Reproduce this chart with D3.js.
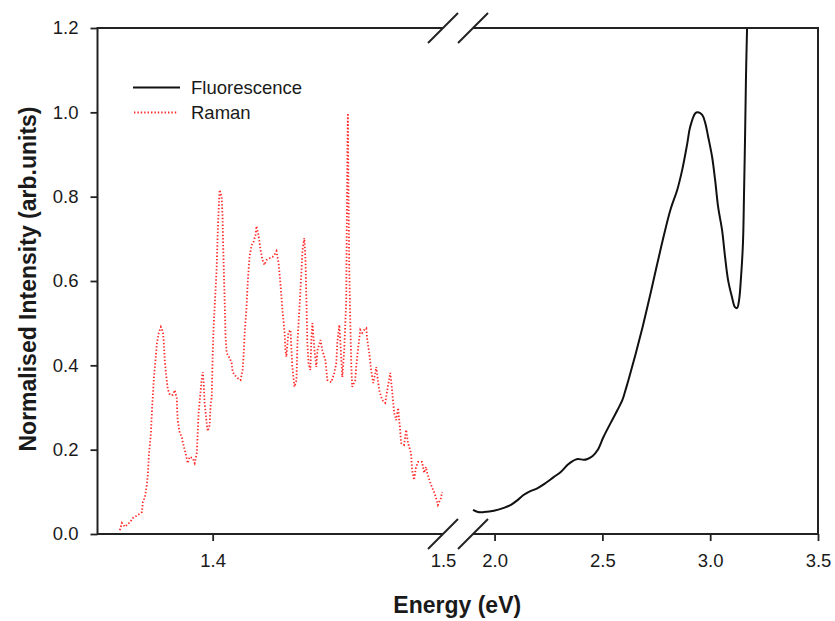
<!DOCTYPE html>
<html>
<head>
<meta charset="utf-8">
<script src="https://cdn.jsdelivr.net/npm/d3@7"></script>
<style>
  body { margin: 0; background: #fff; }
  svg text { font-family: Arial, "Liberation Sans", sans-serif; fill: #1a1a1a; }
</style>
</head>
<body>
<div id="chart"></div>
<script>
// Raman spectrum (left part of the broken axis)
const ramanEnergy = [1.3597, 1.3606, 1.3619, 1.3641, 1.3654, 1.3675, 1.3693, 1.3697, 1.3706, 1.3714,
  1.3719, 1.3723, 1.3732, 1.3736, 1.3740, 1.3745, 1.3753, 1.3758, 1.3766, 1.3775,
  1.3784, 1.3788, 1.3792, 1.3797, 1.3805, 1.3814, 1.3827, 1.3835, 1.3844, 1.3846,
  1.3848, 1.3857, 1.3866, 1.3870, 1.3879, 1.3887, 1.3892, 1.3900, 1.3913, 1.3922,
  1.3931, 1.3935, 1.3939, 1.3948, 1.3952, 1.3957, 1.3961, 1.3965, 1.3974, 1.3978,
  1.3987, 1.3991, 1.3996, 1.4000, 1.4004, 1.4009, 1.4017, 1.4022, 1.4026, 1.4030,
  1.4039, 1.4043, 1.4045, 1.4048, 1.4052, 1.4056, 1.4061, 1.4074, 1.4082, 1.4087,
  1.4095, 1.4108, 1.4121, 1.4130, 1.4134, 1.4139, 1.4147, 1.4152, 1.4160, 1.4169,
  1.4177, 1.4186, 1.4190, 1.4199, 1.4208, 1.4216, 1.4225, 1.4234, 1.4247, 1.4260,
  1.4268, 1.4277, 1.4286, 1.4294, 1.4303, 1.4312, 1.4316, 1.4320, 1.4329, 1.4338,
  1.4342, 1.4346, 1.4355, 1.4364, 1.4368, 1.4377, 1.4385, 1.4390, 1.4398, 1.4403,
  1.4407, 1.4411, 1.4416, 1.4424, 1.4429, 1.4433, 1.4442, 1.4450, 1.4455, 1.4468,
  1.4476, 1.4489, 1.4498, 1.4515, 1.4528, 1.4537, 1.4541, 1.4550, 1.4558, 1.4563,
  1.4571, 1.4580, 1.4582, 1.4585, 1.4587, 1.4590, 1.4593, 1.4597, 1.4602, 1.4606,
  1.4619, 1.4623, 1.4632, 1.4641, 1.4649, 1.4658, 1.4667, 1.4671, 1.4680, 1.4688,
  1.4697, 1.4706, 1.4710, 1.4723, 1.4736, 1.4749, 1.4758, 1.4771, 1.4779, 1.4788,
  1.4797, 1.4805, 1.4814, 1.4818, 1.4831, 1.4840, 1.4848, 1.4861, 1.4866, 1.4874,
  1.4883, 1.4892, 1.4909, 1.4918, 1.4926, 1.4931, 1.4944, 1.4952, 1.4961, 1.4970,
  1.4978, 1.4991, 1.4996];
const ramanIntensity = [0.009, 0.026, 0.017, 0.028, 0.038, 0.045, 0.052, 0.076, 0.088, 0.116,
  0.145, 0.187, 0.240, 0.287, 0.325, 0.372, 0.420, 0.453, 0.477, 0.491,
  0.479, 0.453, 0.413, 0.382, 0.344, 0.330, 0.330, 0.341, 0.323, 0.294,
  0.270, 0.240, 0.230, 0.218, 0.199, 0.180, 0.168, 0.183, 0.180, 0.168,
  0.192, 0.240, 0.287, 0.341, 0.365, 0.384, 0.358, 0.311, 0.263, 0.244,
  0.258, 0.306, 0.325, 0.424, 0.491, 0.543, 0.626, 0.714, 0.768, 0.816,
  0.799, 0.752, 0.697, 0.633, 0.555, 0.467, 0.429, 0.417, 0.406, 0.384,
  0.377, 0.370, 0.365, 0.389, 0.420, 0.477, 0.538, 0.595, 0.657, 0.685,
  0.692, 0.709, 0.730, 0.709, 0.673, 0.650, 0.638, 0.650, 0.654, 0.657,
  0.662, 0.671, 0.643, 0.595, 0.531, 0.479, 0.436, 0.420, 0.479, 0.484,
  0.436, 0.396, 0.349, 0.365, 0.453, 0.538, 0.619, 0.673, 0.702, 0.650,
  0.555, 0.453, 0.406, 0.389, 0.467, 0.500, 0.436, 0.396, 0.436, 0.460,
  0.436, 0.413, 0.365, 0.360, 0.382, 0.406, 0.453, 0.496, 0.420, 0.372,
  0.436, 0.555, 0.714, 0.911, 0.998, 0.792, 0.633, 0.515, 0.396, 0.349,
  0.365, 0.396, 0.443, 0.484, 0.477, 0.484, 0.488, 0.460, 0.429, 0.389,
  0.358, 0.382, 0.396, 0.341, 0.318, 0.311, 0.341, 0.382, 0.341, 0.287,
  0.270, 0.299, 0.247, 0.216, 0.211, 0.247, 0.216, 0.192, 0.152, 0.128,
  0.159, 0.171, 0.171, 0.145, 0.159, 0.145, 0.123, 0.111, 0.100, 0.085,
  0.069, 0.085, 0.100];

// Fluorescence spectrum (right part of the broken axis)
const fluorEnergy = [1.900, 1.923, 1.951, 1.997, 2.043, 2.076, 2.108, 2.136, 2.159, 2.200,
  2.237, 2.274, 2.307, 2.339, 2.362, 2.385, 2.413, 2.431, 2.455, 2.478,
  2.505, 2.538, 2.570, 2.593, 2.607, 2.621, 2.686, 2.723, 2.769, 2.815,
  2.847, 2.870, 2.894, 2.907, 2.931, 2.944, 2.963, 2.977, 2.991, 3.009,
  3.023, 3.037, 3.055, 3.069, 3.083, 3.101, 3.115, 3.125, 3.134, 3.143,
  3.152, 3.157, 3.162, 3.166, 3.171, 3.173];
const fluorIntensity = [0.057, 0.052, 0.052, 0.055, 0.062, 0.069, 0.081, 0.093, 0.100, 0.109,
  0.121, 0.135, 0.147, 0.164, 0.173, 0.178, 0.176, 0.178, 0.185, 0.199,
  0.230, 0.263, 0.294, 0.318, 0.341, 0.365, 0.490, 0.570, 0.673, 0.768,
  0.816, 0.863, 0.927, 0.965, 0.998, 1.000, 0.994, 0.975, 0.941, 0.894,
  0.839, 0.775, 0.721, 0.657, 0.602, 0.562, 0.538, 0.536, 0.555, 0.609,
  0.690, 0.809, 0.951, 1.084, 1.200, 1.250];

const yTicks = [0, 0.2, 0.4, 0.6, 0.8, 1.0, 1.2];
const xTicksLeft = [1.4, 1.5];
const xTicksRight = [2.0, 2.5, 3.0, 3.5];

const W = 835, H = 621;
const plotLeft = 97.5, plotRight = 818, plotTop = 28, plotBottom = 534;
const breakL = 443, breakR = 473;

const svg = d3.select('#chart').append('svg')
  .attr('width', W).attr('height', H);

const y = d3.scaleLinear().domain([0, 1.2]).range([plotBottom, plotTop]);
const xL = d3.scaleLinear().domain([1.35, 1.5]).range([plotLeft, breakL]);
const xR = d3.scaleLinear().domain([1.9, 3.5]).range([breakR, plotRight]);

svg.append('clipPath').attr('id', 'clip')
  .append('rect').attr('x', plotLeft).attr('y', plotTop)
  .attr('width', plotRight - plotLeft).attr('height', plotBottom - plotTop);

// curves
const raman = ramanEnergy.map((e, i) => [e, ramanIntensity[i]]);
const fluor = fluorEnergy.map((e, i) => [e, fluorIntensity[i]]);

const ramanColor = '#ff2a2a';

svg.append('path')
  .datum(raman)
  .attr('clip-path', 'url(#clip)')
  .attr('fill', 'none')
  .attr('stroke', ramanColor)
  .attr('stroke-width', 1.8)
  .attr('stroke-dasharray', '1.4,2')
  .attr('d', d3.line().x(d => xL(d[0])).y(d => y(d[1])));

svg.append('path')
  .datum(fluor)
  .attr('clip-path', 'url(#clip)')
  .attr('fill', 'none')
  .attr('stroke', '#111')
  .attr('stroke-width', 2)
  .attr('d', d3.line().curve(d3.curveCatmullRom).x(d => xR(d[0])).y(d => y(d[1])));

// axes
const axisColor = '#222';
const styleAxis = g => {
  g.select('.domain').remove();
  g.selectAll('.tick line').attr('stroke', axisColor).attr('stroke-width', 1.8);
  g.selectAll('.tick text').style('font-size', '18.5px').attr('fill', '#1a1a1a');
};

svg.append('g')
  .attr('transform', `translate(${plotLeft},0)`)
  .call(d3.axisLeft(y).tickValues(yTicks).tickFormat(d3.format('.1f')).tickSize(7).tickPadding(12))
  .call(styleAxis);

svg.append('g')
  .attr('transform', `translate(0,${plotBottom})`)
  .call(d3.axisBottom(xL).tickValues(xTicksLeft).tickFormat(d3.format('.1f')).tickSize(7).tickPadding(13))
  .call(styleAxis)
  .call(g => g.selectAll('.tick').filter(d => d === 1.5).select('line').remove());

svg.append('g')
  .attr('transform', `translate(0,${plotBottom})`)
  .call(d3.axisBottom(xR).tickValues(xTicksRight).tickFormat(d3.format('.1f')).tickSize(7).tickPadding(13))
  .call(styleAxis);

// frame with gaps at the break
const frame = svg.append('g').attr('stroke', axisColor).attr('stroke-width', 2).attr('fill', 'none');
frame.append('path').attr('d', `M${breakL},${plotTop}H${plotLeft}V${plotBottom}H${breakL}`);
frame.append('path').attr('d', `M${breakR},${plotTop}H${plotRight}V${plotBottom}H${breakR}`);

// break marks
[plotTop, plotBottom].forEach(yy => {
  [breakL, breakR].forEach(xx => {
    frame.append('line')
      .attr('x1', xx - 15).attr('y1', yy + 15)
      .attr('x2', xx + 15).attr('y2', yy - 15);
  });
});

// titles
svg.append('text')
  .attr('x', (plotLeft + plotRight) / 2 - 0.5).attr('y', 613)
  .attr('text-anchor', 'middle')
  .style('font-size', '23px').style('font-weight', 'bold')
  .text('Energy (eV)');

svg.append('text')
  .attr('transform', 'translate(36,279) rotate(-90)')
  .attr('text-anchor', 'middle')
  .style('font-size', '23px').style('font-weight', 'bold')
  .text('Normalised Intensity (arb.units)');

// legend
const legend = svg.append('g');
legend.append('line')
  .attr('x1', 133).attr('x2', 180).attr('y1', 87.5).attr('y2', 87.5)
  .attr('stroke', '#111').attr('stroke-width', 2);
legend.append('text').attr('x', 191).attr('y', 87.5).attr('dy', '0.35em')
  .style('font-size', '18.5px').text('Fluorescence');
legend.append('line')
  .attr('x1', 134).attr('x2', 178).attr('y1', 112.5).attr('y2', 112.5)
  .attr('stroke', ramanColor).attr('stroke-width', 1.8)
  .attr('stroke-dasharray', '1.4,2');
legend.append('text').attr('x', 191).attr('y', 112.5).attr('dy', '0.35em')
  .style('font-size', '18.5px').text('Raman');
</script>
</body>
</html>
